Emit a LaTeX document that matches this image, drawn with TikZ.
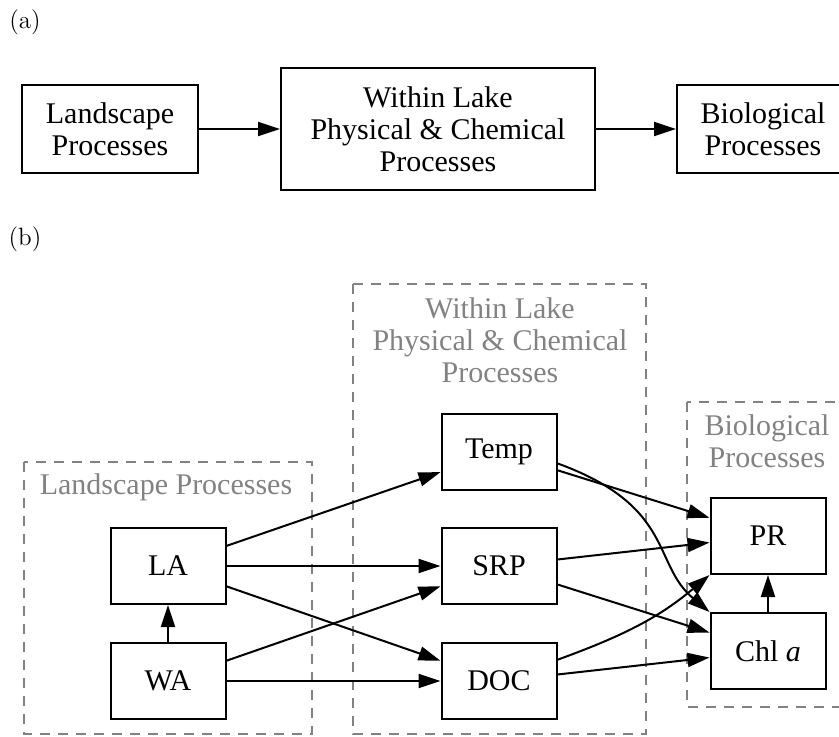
\documentclass[tikz,border=0pt]{standalone}
\usepackage{fontspec}
\newfontfamily\timesfont{Liberation Serif}
\usepackage{xcolor}
\definecolor{clustergray}{RGB}{130,130,130}
\usepackage{tikz}
\usetikzlibrary{arrows.meta}
\newcommand{\widthvar}{57.5pt}
\newcommand{\heightvar}{38pt}
\newcommand{\procfont}{\timesfont\fontsize{15}{16}\selectfont}
\tikzset{
    common/.style={draw, rectangle, line width=1pt, font=\procfont, align=center, inner sep=0pt},
    var/.style={common, minimum width=\widthvar, minimum height=\heightvar},
    group/.style={common, minimum height=44pt},
    cluster/.style={draw=clustergray, line width=1pt, dash pattern=on 5pt off 4pt},
    clusterlabel/.style={text=clustergray, font=\procfont, align=center},
    panel/.style={font=\fontsize{12.5}{14}\selectfont},
    link/.style={-{Triangle[length=11pt,width=7pt]}, line width=1pt},
}

\begin{document}
\begin{tikzpicture}[x=0.5pt, y=-0.5pt]
    \useasboundingbox (0,0) rectangle (839,736);

    % (a)
    \node[panel] (a-label) at (25,22) {(a)};
    \node[group, minimum width=88pt] (landscape) at (110,129) {Landscape\\Processes};
    \node[group, minimum width=157pt, minimum height=61pt] (lake) at (438,129) {Within Lake\\Physical \& Chemical\\Processes};
    \node[group, minimum width=86pt] (bio) at (763,129) {Biological\\Processes};

    \draw[link] (landscape) -- (lake);
    \draw[link] (lake) -- (bio);

    % (b)
    \node[panel] (b-label) at (25,239) {(b)};

    \draw[cluster] (24,462) rectangle (312,734);
    \draw[cluster] (353,284) rectangle (646,734);
    \draw[cluster] (687,402) rectangle (870,707);

    \node[clusterlabel] (landscape-label) at (166,487) {Landscape Processes};
    \node[clusterlabel] (lake-label) at (500,340) {Within Lake\\Physical \& Chemical\\Processes};
    \node[clusterlabel] (bio-label) at (767,441) {Biological\\Processes};

    \node[var] (LA) at (168,566) {LA};
    \node[var] (WA) at (168,681) {WA};
    \node[var] (Temp) at (499,452) {Temp};
    \node[var] (SRP) at (499,566) {SRP};
    \node[var] (DOC) at (499,681) {DOC};
    \node[var] (PR) at (768,536) {PR};
    \node[var] (Chl) at (768,651) {Chl \textit{a}};

    \draw[link] (WA) -- (LA);
    \draw[link] (LA) -- (Temp);
    \draw[link] (LA) -- (SRP);
    \draw[link] (LA) -- (DOC);
    \draw[link] (WA) -- (SRP);
    \draw[link] (WA) -- (DOC);

    \draw[link] (Temp) -- (PR);
    \draw[link] (Temp.-11) to[out=-20, in=140, out distance=62.5pt, in distance=37.5pt] (Chl.north west);
    \draw[link] (SRP) -- (PR);
    \draw[link] (SRP) -- (Chl);
    \draw[link] (DOC) to[out=20, in=-140] (PR.south west);
    \draw[link] (DOC) -- (Chl);
    \draw[link] (Chl) -- (PR);
\end{tikzpicture}
\end{document}
